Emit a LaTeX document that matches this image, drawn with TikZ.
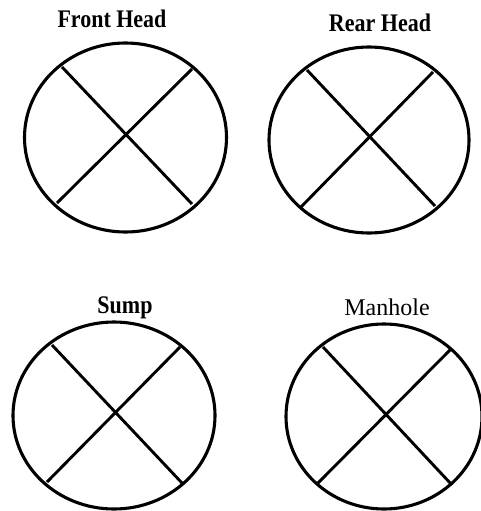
\documentclass[tikz,border=0pt]{standalone}
\usepackage{fontspec}
\setmainfont{Liberation Serif}
\begin{document}
\begin{tikzpicture}[x=1pt,y=-1pt,
  rim/.style={line width=3.1pt},
  bar/.style={line width=2.9pt},
  ttl/.style={font=\fontsize{22}{24}\selectfont\bfseries, inner sep=0pt, anchor=base, yscale=1.15},
  ttlr/.style={font=\fontsize{24}{26}\selectfont, inner sep=0pt, anchor=base}]
\useasboundingbox (0,0) rectangle (480,511);
% Front Head
\node[ttl] (t1) at (112,28) {Front Head};
\draw[rim] (125.5,137.5) ellipse [x radius=101, y radius=94.5];
\coordinate (a1) at (62,67); \coordinate (b1) at (192,204);
\coordinate (c1) at (192,69); \coordinate (d1) at (57,203);
\draw[bar] (a1) -- (b1); \draw[bar] (c1) -- (d1);
% Rear Head
\node[ttl] (t2) at (380,32) {Rear Head};
\draw[rim] (369,140) ellipse [x radius=100, y radius=93];
\coordinate (a2) at (307,70); \coordinate (b2) at (435,206);
\coordinate (c2) at (433,72); \coordinate (d2) at (301,207);
\draw[bar] (a2) -- (b2); \draw[bar] (c2) -- (d2);
% Sump
\node[ttl] (t3) at (125,313) {Sump};
\draw[rim] (114,415.5) ellipse [x radius=101, y radius=93.5];
\coordinate (a3) at (52,345); \coordinate (b3) at (182,483);
\coordinate (c3) at (180,347); \coordinate (d3) at (47,482);
\draw[bar] (a3) -- (b3); \draw[bar] (c3) -- (d3);
% Manhole
\node[ttlr] (t4) at (387,315) {Manhole};
\draw[rim] (384,416.5) ellipse [x radius=98, y radius=92.5];
\coordinate (a4) at (323,347); \coordinate (b4) at (452,485);
\coordinate (c4) at (451,349); \coordinate (d4) at (318,483);
\draw[bar] (a4) -- (b4); \draw[bar] (c4) -- (d4);
\end{tikzpicture}
\end{document}
